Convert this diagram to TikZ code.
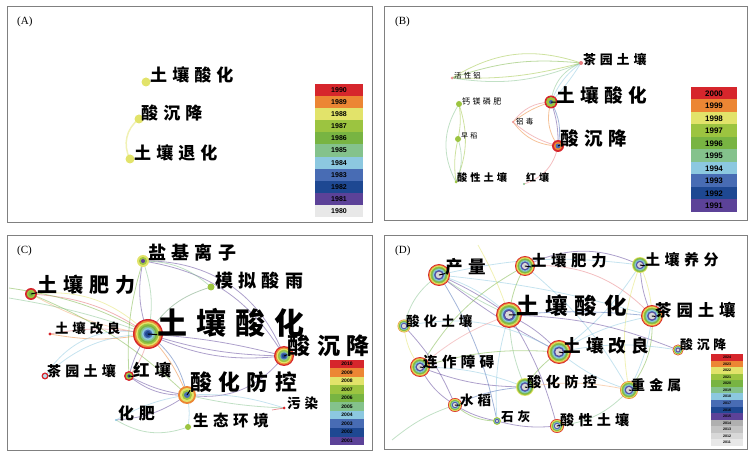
\documentclass[tikz,border=0pt]{standalone}
\usepackage{fontspec}
\setmainfont{Liberation Serif}
\newfontfamily\cjk{Noto Sans CJK SC}[LetterSpace=30]
\newfontfamily\lgfont{Liberation Sans}
\usetikzlibrary{arrows,positioning}
\definecolor{y10}{RGB}{214,38,44}
\definecolor{y9}{RGB}{236,134,52}
\definecolor{y8}{RGB}{226,227,106}
\definecolor{y7}{RGB}{156,196,64}
\definecolor{y6}{RGB}{120,180,66}
\definecolor{y5}{RGB}{132,194,140}
\definecolor{y4}{RGB}{140,200,224}
\definecolor{y3}{RGB}{72,108,180}
\definecolor{y2}{RGB}{30,72,146}
\definecolor{y1}{RGB}{92,66,152}
\definecolor{g4}{RGB}{176,176,176}
\definecolor{g3}{RGB}{196,196,196}
\definecolor{g2}{RGB}{216,216,216}
\definecolor{g1}{RGB}{232,232,232}
\definecolor{framegray}{RGB}{128,128,128}
\newcommand\kwsize[1]{\fontsize{#1}{#1}\selectfont}
% rings: node, outer radius, step, colours (outside in)
\newcommand\rings[4]{\foreach \rc [count=\ri from 0] in {#4} \fill[\rc] (#1) circle[radius={(#2-\ri*#3)*1pt}];}

\begin{document}
\begin{tikzpicture}[x=1pt,y=-1pt]%
        \useasboundingbox (0,0) rectangle (756,457); %%
        \tikzstyle{kw}=[circle,inner sep=0pt,minimum size=0pt] %%
        \tikzstyle{lnk}=[line width=.8pt,opacity=.5] %%
        \tikzstyle{leader}=[line width=1pt,line cap=round] %%
        \tikzstyle{lgtxt}=[inner sep=0pt,font=\lgfont\bfseries] %%
        \tikzstyle{tag}=[inner sep=0pt,anchor=west,font=\kwsize{11}] %%
        % frames
        \draw[framegray,line width=.8pt] (7,6) rectangle (372,222); %%
        \draw[framegray,line width=.8pt] (384,6) rectangle (747,220); %%
        \draw[framegray,line width=.8pt] (7,235) rectangle (372,450); %%
        \draw[framegray,line width=.8pt] (384,235) rectangle (747,449); %%
        \node[tag] (pA) at (17,22) {(A)}; %%
        \node[tag] (pB) at (395,22) {(B)}; %%
        \node[tag] (pC) at (17,251) {(C)}; %%
        \node[tag] (pD) at (395,251) {(D)}; %%
        % keyword positions
        \node[kw] (a1) at (146,82) {}; %%
        \node[kw] (a2) at (139,119) {}; %%
        \node[kw] (a3) at (130,159) {}; %%
        \node[kw] (b1) at (551,102) {}; %%
        \node[kw] (b2) at (558,146) {}; %%
        \node[kw] (b3) at (581,63) {}; %%
        \node[kw] (b4) at (452,78) {}; %%
        \node[kw] (b5) at (459,104) {}; %%
        \node[kw] (b6) at (458,139) {}; %%
        \node[kw] (b7) at (456,182) {}; %%
        \node[kw] (b8) at (513,122) {}; %%
        \node[kw] (b9) at (524,184) {}; %%
        \node[kw] (c1) at (148,334) {}; %%
        \node[kw] (c2) at (143,261) {}; %%
        \node[kw] (c3) at (211,287) {}; %%
        \node[kw] (c4) at (31,294) {}; %%
        \node[kw] (c5) at (50,334) {}; %%
        \node[kw] (c6) at (284,356) {}; %%
        \node[kw] (c7) at (45,376) {}; %%
        \node[kw] (c8) at (129,376) {}; %%
        \node[kw] (c9) at (187,395) {}; %%
        \node[kw] (c10) at (284,408) {}; %%
        \node[kw] (c11) at (116,420) {}; %%
        \node[kw] (c12) at (188,427) {}; %%
        \node[kw] (d1) at (439,275) {}; %%
        \node[kw] (d2) at (525,266) {}; %%
        \node[kw] (d3) at (640,265) {}; %%
        \node[kw] (d4) at (509,315) {}; %%
        \node[kw] (d5) at (652,316) {}; %%
        \node[kw] (d6) at (404,326) {}; %%
        \node[kw] (d7) at (559,352) {}; %%
        \node[kw] (d8) at (678,350) {}; %%
        \node[kw] (d9) at (420,367) {}; %%
        \node[kw] (d10) at (525,387) {}; %%
        \node[kw] (d11) at (629,390) {}; %%
        \node[kw] (d12) at (455,405) {}; %%
        \node[kw] (d13) at (497,421) {}; %%
        \node[kw] (d14) at (557,426) {}; %%
        \coordinate (cw1) at (9,288); %%
        \coordinate (cw2) at (9,298); %%
        \coordinate (cp) at (272,410); %%
        \coordinate (dw1) at (392,440); %%
        \coordinate (dn1) at (478,245); %%
        % links (A)
        \draw[lnk,y8,line width=1.5pt] (a2) to[bend right=40] (a3); %%
        % links (B)
        \draw[lnk,y7] (b4) to[bend left=25] (b3); %%
        \draw[lnk,y6] (b4) to[bend left=12] (b3); %%
        \draw[lnk,y7] (b4) to[bend right=8] (b3); %%
        \draw[lnk,y5] (b4) to[bend right=15] (b3); %%
        \draw[lnk,y4] (b1) to[bend left=15] (b3); %%
        \draw[lnk,y5] (b1) to[bend left=30] (b3); %%
        \draw[lnk,y4] (b1) to[bend right=5] (b3); %%
        \draw[lnk,y9] (b1) to[bend right=25] (b2); %%
        \draw[lnk,y3] (b1) to[bend left=20] (b2); %%
        \draw[lnk,y1] (b1) to[bend left=10] (b2); %%
        \draw[lnk,y10!60] (b8) to[bend left=25] (b1); %%
        \draw[lnk,y9] (b8) to[bend left=10] (b1); %%
        \draw[lnk,y9] (b8) to[bend right=25] (b2); %%
        \draw[lnk,y10!60] (b8) to[bend right=12] (b2); %%
        \draw[lnk,y10!60] (b2) to[bend left=30] (b9); %%
        \draw[lnk,y5] (b5) to[bend right=30] (b7); %%
        \draw[lnk,y7] (b5) to[bend left=20] (b7); %%
        \draw[lnk,y7] (b5) to[bend left=10] (b6); %%
        \draw[lnk,y5] (b6) to[bend left=20] (b7); %%
        \draw[lnk,y7] (b6) to[bend right=10] (b7); %%
        % links (C)
        \draw[lnk,y1] (c2) to[bend left=35] (c6); %%
        \draw[lnk,y1] (c2) to[bend left=25] (c6); %%
        \draw[lnk,y5] (c2) to[bend left=20] (c3); %%
        \draw[lnk,y5] (c2) to[bend left=15] (c1); %%
        \draw[lnk,y1] (c2) to[bend right=15] (c1); %%
        \draw[lnk,y6] (c2) to[bend right=10] (c8); %%
        \draw[lnk,y5!80!black] (c3) to[bend right=20] (c1); %%
        \draw[lnk,y1] (c1) to[bend right=15] (c6); %%
        \draw[lnk,y1] (c1) to[bend right=8] (c6); %%
        \draw[lnk,y1] (c1) to[bend left=5] (c6); %%
        \draw[lnk,y1] (c9) to[bend right=30] (c6); %%
        \draw[lnk,y10!70] (c4) to[bend left=15] (c1); %%
        \draw[lnk,y8] (c4) to[bend left=25] (c1); %%
        \draw[lnk,y9!70] (c4) to[bend right=10] (c1); %%
        \draw[lnk,y6] (c4) to[bend left=10] (c9); %%
        \draw[lnk,y6] (cw1) to[bend left=10] (c1); %%
        \draw[lnk,y5] (cw2) to[bend left=5] (c1); %%
        \draw[lnk,y9] (c5) to[bend right=10] (c1); %%
        \draw[lnk,y10!60] (c5) to[bend left=10] (c1); %%
        \draw[lnk,y4] (c7) to[bend left=20] (c1); %%
        \draw[lnk,y4] (c7) to[bend left=35] (c1); %%
        \draw[lnk,y1] (c8) to[bend left=10] (c1); %%
        \draw[lnk,y10!60] (c8) to[bend right=15] (c1); %%
        \draw[lnk,y1] (c8) to[bend right=20] (c9); %%
        \draw[lnk,y1] (c8) to[bend right=10] (c9); %%
        \draw[lnk,y9] (c1) to[bend left=10] (c9); %%
        \draw[lnk,y3] (c1) to[bend left=20] (c9); %%
        \draw[lnk,y4] (c9) to[bend left=10] (c10); %%
        \draw[lnk,y5] (c9) to[bend right=5] (c10); %%
        \draw[lnk,y10] (cp) -- (c10); %%
        \draw[lnk,y1] (c11) to[bend right=15] (c9); %%
        \draw[lnk,y4] (c11) to[bend left=10] (c9); %%
        \draw[lnk,y5] (c11) to[bend right=25] (c12); %%
        \draw[lnk,y4] (c12) to[bend right=10] (c9); %%
        % links (D)
        \begin{scope}[opacity=.8]
        \draw[lnk,y1] (d1) to[bend left=5] (d4); %%
        \draw[lnk,y5] (d1) to[bend right=5] (d4); %%
        \draw[lnk,y4] (d1) to[bend left=12] (d4); %%
        \draw[lnk,y1] (d1) to[bend right=5] (d7); %%
        \draw[lnk,y4] (d1) to[bend left=5] (d5); %%
        \draw[lnk,y4] (d1) to[bend left=10] (d3); %%
        \draw[lnk,y5] (d1) to[bend right=20] (d6); %%
        \draw[lnk,y3] (d1) to[bend left=10] (d13); %%
        \draw[lnk,y1] (d2) to[bend left=25] (d3); %%
        \draw[lnk,y10!60] (d2) to[bend left=25] (d5); %%
        \draw[lnk,y6] (d2) to[bend right=10] (d4); %%
        \draw[lnk,y6] (d2) to[bend right=15] (d9); %%
        \draw[lnk,y4] (d2) to[bend left=10] (d11); %%
        \draw[lnk,y8] (d3) to[bend left=10] (d5); %%
        \draw[lnk,y1] (d3) to[bend right=10] (d5); %%
        \draw[lnk,y8] (d3) to[bend right=15] (d11); %%
        \draw[lnk,y4] (d3) to[bend left=10] (d7); %%
        \draw[lnk,y1] (d4) to[bend left=10] (d7); %%
        \draw[lnk,y3] (d4) to[bend left=5] (d5); %%
        \draw[lnk,y1] (d4) to[bend left=10] (d8); %%
        \draw[lnk,y1] (d4) to[bend left=8] (d14); %%
        \draw[lnk,y4] (d4) to[bend right=10] (d13); %%
        \draw[lnk,y5] (d4) to[bend right=10] (d10); %%
        \draw[lnk,y4] (d5) to[bend left=10] (d11); %%
        \draw[lnk,y6] (d5) to[bend left=20] (d11); %%
        \draw[lnk,y4] (d5) to[bend right=10] (d7); %%
        \draw[lnk,y8] (d6) to[bend right=15] (d9); %%
        \draw[lnk,y1] (d6) to[bend left=10] (d12); %%
        \draw[lnk,y4] (d6) to[bend left=20] (d7); %%
        \draw[lnk,y1] (d9) to[bend right=15] (d12); %%
        \draw[lnk,y1] (d9) to[bend right=10] (d10); %%
        \draw[lnk,y4] (d9) to[bend left=10] (d10); %%
        \draw[lnk,y6] (d9) to[bend left=10] (d7); %%
        \draw[lnk,y10!50] (d9) to[bend left=10] (d4); %%
        \draw[lnk,y6] (d10) to[bend left=10] (d7); %%
        \draw[lnk,y9!70] (d10) to[bend left=10] (d11); %%
        \draw[lnk,y1] (d12) to[bend right=10] (d13); %%
        \draw[lnk,y6] (d12) to[bend right=20] (d13); %%
        \draw[lnk,y3] (d12) to[bend left=10] (d10); %%
        \draw[lnk,y1] (d13) to[bend right=10] (d14); %%
        \draw[lnk,y5] (d14) to[bend right=20] (d11); %%
        \draw[lnk,y4] (d7) to[bend left=10] (d8); %%
        \draw[lnk,y4] (d11) to[bend left=10] (d7); %%
        \draw[lnk,y5] (dw1) to[bend left=10] (d12); %%
        \draw[lnk,y8] (dn1) to[bend left=5] (d4); %%
        \end{scope}
        % rings
        \foreach \k in {a1,a2,a3} \fill[y8] (\k) circle[radius=4.5pt]; %%
        \rings{b1}{6.5}{1.5}{y10,y7,y7,y3} %%
        \rings{b2}{6}{1.8}{y10,y9,y3} %%
        \rings{b3}{2}{1}{y10!60} %%
        \rings{b4}{1.5}{1}{y10!50} %%
        \rings{b5}{3}{1}{y7} %%
        \rings{b6}{3}{1}{y7} %%
        \rings{b7}{1.5}{1}{y7} %%
        \rings{b8}{1.2}{1}{y10!50} %%
        \rings{b9}{1.2}{1}{y5} %%
        \rings{c1}{15}{1.5}{y10,y9,y8,y7,y6,y5,y4,y3,y2} %%
        \rings{c2}{6}{2}{y8,y7,y1} %%
        \rings{c3}{3.5}{1}{y7} %%
        \rings{c4}{6}{1.7}{y10,y7,y6} %%
        \rings{c5}{1.6}{1}{y10} %%
        \rings{c6}{10}{1.3}{y10,y9,y8,y7,y5,y3,y2} %%
        \rings{c7}{3.5}{1.5}{y10,y4!60} %%
        \rings{c8}{5}{1.6}{y10,y7,y2} %%
        \rings{c9}{9}{2}{y9,y8,y7,y3} %%
        \rings{c10}{1.5}{1}{y10} %%
        \rings{c11}{1.2}{1}{y4} %%
        \rings{c12}{3}{1}{y7} %%
        \rings{d1}{11}{.85}{y10,y9,y8,y7,y6,y5,y4,y3,y1,g2} %%
        \rings{d2}{10}{.77}{y10,y9,y8,y7,y6,y5,y4,y3,y1,g2} %%
        \rings{d3}{8}{.73}{y8,y7,y6,y5,y4,y3,y1,g2} %%
        \rings{d4}{13}{1}{y10,y9,y8,y7,y6,y5,y4,y3,y1,g2} %%
        \rings{d5}{11}{.85}{y10,y9,y8,y7,y6,y5,y4,y3,y1,g2} %%
        \rings{d6}{6.5}{.54}{y9,y8,y7,y6,y5,y4,y3,y1,g2} %%
        \rings{d7}{12}{.92}{y10,y9,y8,y7,y6,y5,y4,y3,y1,g2} %%
        \rings{d8}{5.5}{.42}{y10,y9,y8,y7,y6,y5,y4,y3,y1,g2} %%
        \rings{d9}{10}{.77}{y10,y9,y8,y7,y6,y5,y4,y3,y1,g2} %%
        \rings{d10}{9}{.82}{y8,y7,y6,y5,y4,y3,y1,g2} %%
        \rings{d11}{9}{.75}{y9,y8,y7,y6,y5,y4,y3,y1,g2} %%
        \rings{d12}{7}{.54}{y10,y9,y8,y7,y6,y5,y4,y3,y1,g2} %%
        \rings{d13}{4}{.36}{y8,y7,y6,y5,y4,y3,y1,g2} %%
        \rings{d14}{7}{.54}{y10,y9,y8,y7,y6,y5,y4,y3,y1,g2} %%
        % labels
        \begin{scope}
        \tikzstyle{every node}=[inner sep=0pt,anchor=west] %%
        \node[font=\cjk\bfseries\kwsize{17}] (ta1) at (150,75) {土壤酸化}; %%
        \node[font=\cjk\bfseries\kwsize{17}] (ta2) at (141,113) {酸沉降}; %%
        \node[font=\cjk\bfseries\kwsize{17}] (ta3) at (134,153) {土壤退化}; %%
        \node[font=\cjk\bfseries\kwsize{18.6}] (tb1) at (556,95) {土壤酸化}; %%
        \node[font=\cjk\bfseries\kwsize{18.5}] (tb2) at (560,138) {酸沉降}; %%
        \node[font=\cjk\bfseries\kwsize{12.9}] (tb3) at (583,59) {茶园土壤}; %%
        \node[font=\cjk\kwsize{7.4}] (tb4) at (454,76) {活性铝}; %%
        \node[font=\cjk\kwsize{8}] (tb5) at (462,101) {钙镁磷肥}; %%
        \node[font=\cjk\kwsize{7}] (tb6) at (461,136) {早稻}; %%
        \node[font=\cjk\bfseries\kwsize{10.2}] (tb7) at (457,178) {酸性土壤}; %%
        \node[font=\cjk\kwsize{7.5}] (tb8) at (516,122) {铝毒}; %%
        \node[font=\cjk\bfseries\kwsize{10}] (tb9) at (526,178) {红壤}; %%
        \node[font=\cjk\bfseries\kwsize{30}] (tc1) at (157,323) {土壤酸化}; %%
        \node[font=\cjk\bfseries\kwsize{18}] (tc2) at (148,253) {盐基离子}; %%
        \node[font=\cjk\bfseries\kwsize{18}] (tc3) at (215,281) {模拟酸雨}; %%
        \node[font=\cjk\bfseries\kwsize{20}] (tc4) at (37,285) {土壤肥力}; %%
        \node[font=\cjk\bfseries\kwsize{13.3}] (tc5) at (55,328) {土壤改良}; %%
        \node[font=\cjk\bfseries\kwsize{23}] (tc6) at (287,346) {酸沉降}; %%
        \node[font=\cjk\bfseries\kwsize{14}] (tc7) at (47,371) {茶园土壤}; %%
        \node[font=\cjk\bfseries\kwsize{16.5}] (tc8) at (133,370) {红壤}; %%
        \node[font=\cjk\bfseries\kwsize{21.8}] (tc9) at (190,382) {酸化防控}; %%
        \node[font=\cjk\bfseries\kwsize{13.5}] (tc10) at (287,403) {污染}; %%
        \node[font=\cjk\bfseries\kwsize{16}] (tc11) at (118,413) {化肥}; %%
        \node[font=\cjk\bfseries\kwsize{15.4}] (tc12) at (193,421) {生态环境}; %%
        \node[font=\cjk\bfseries\kwsize{17.6}] (td1) at (445,267) {产量}; %%
        \node[font=\cjk\bfseries\kwsize{15.4}] (td2) at (531,261) {土壤肥力}; %%
        \node[font=\cjk\bfseries\kwsize{15}] (td3) at (645,260) {土壤养分}; %%
        \node[font=\cjk\bfseries\kwsize{22.6}] (td4) at (516,306) {土壤酸化}; %%
        \node[font=\cjk\bfseries\kwsize{16.4}] (td5) at (655,310) {茶园土壤}; %%
        \node[font=\cjk\bfseries\kwsize{13.5}] (td6) at (406,321) {酸化土壤}; %%
        \node[font=\cjk\bfseries\kwsize{17.6}] (td7) at (563,346) {土壤改良}; %%
        \node[font=\cjk\bfseries\kwsize{12.8}] (td8) at (680,345) {酸沉降}; %%
        \node[font=\cjk\bfseries\kwsize{14.5}] (td9) at (423,362) {连作障碍}; %%
        \node[font=\cjk\bfseries\kwsize{14.3}] (td10) at (527,382) {酸化防控}; %%
        \node[font=\cjk\bfseries\kwsize{13.9}] (td11) at (631,385) {重金属}; %%
        \node[font=\cjk\bfseries\kwsize{13.5}] (td12) at (460,400) {水稻}; %%
        \node[font=\cjk\bfseries\kwsize{12.6}] (td13) at (501,417) {石灰}; %%
        \node[font=\cjk\bfseries\kwsize{14.1}] (td14) at (560,420) {酸性土壤}; %%
        \end{scope}
        \foreach \k in {b1,b2,c1,c4,c6,c8,c9,d1,d2,d3,d4,d5,d7,d9,d10,d11,d12,d14} \draw[leader] (\k) -- (t\k.base west); %%
        % legends
        \foreach \col/\yr [count=\i from 0] in {y10/1990,y9/1989,y8/1988,y7/1987,y6/1986,y5/1985,y4/1984,y3/1983,y2/1982,y1/1981,g1/1980} {
          \fill[\col] (315,{84+\i*12.1}) rectangle ++(48,12.1); %%
          \node[lgtxt,font=\lgfont\bfseries\kwsize{7}] (la\i) at (339,{90.05+\i*12.1}) {\yr}; %%
        }
        \foreach \col/\yr [count=\i from 0] in {y10/2000,y9/1999,y8/1998,y7/1997,y6/1996,y5/1995,y4/1994,y3/1993,y2/1992,y1/1991} {
          \fill[\col] (691,{87+\i*12.5}) rectangle ++(46,12.5); %%
          \node[lgtxt,font=\lgfont\bfseries\kwsize{8}] (lb\i) at (714,{93.25+\i*12.5}) {\yr}; %%
        }
        \foreach \col/\yr [count=\i from 0] in {y10/2010,y9/2009,y8/2008,y7/2007,y6/2006,y5/2005,y4/2004,y3/2003,y2/2002,y1/2001} {
          \fill[\col] (330,{360+\i*8.5}) rectangle ++(34,8.5); %%
          \node[lgtxt,font=\lgfont\bfseries\kwsize{5}] (lc\i) at (347,{364.25+\i*8.5}) {\yr}; %%
        }
        \foreach \col/\yr [count=\i from 0] in {y10/2024,y9/2023,y8/2022,y7/2021,y6/2020,y5/2019,y4/2018,y3/2017,y2/2016,y1/2015,g4/2014,g3/2013,g2/2012,g1/2011} {
          \fill[\col] (711,{354+\i*6.57}) rectangle ++(32,6.57); %%
          \node[lgtxt,font=\lgfont\bfseries\kwsize{3.6}] (ld\i) at (727,{357.3+\i*6.57}) {\yr}; %%
        }
\end{tikzpicture}
\end{document}
